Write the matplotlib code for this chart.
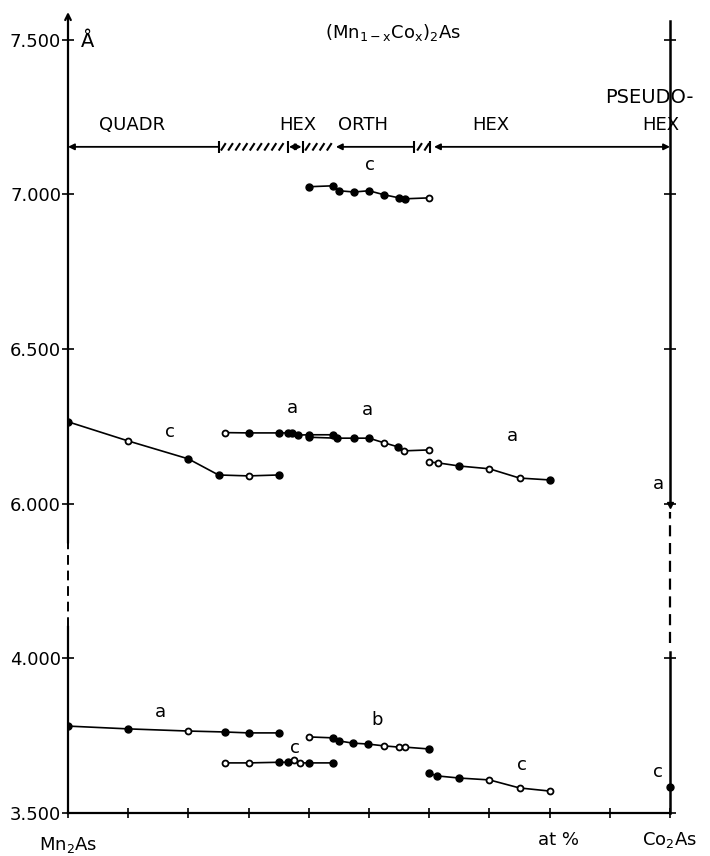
import numpy as np
import matplotlib.pyplot as plt

plt.rcParams['font.family'] = 'DejaVu Sans'

# composition x (fraction Co) and lattice parameters in Angstrom
top_c_x = [0.40, 0.44, 0.45, 0.475, 0.50, 0.525, 0.55, 0.56, 0.60]
top_c_y = [7.025, 7.028, 7.012, 7.008, 7.012, 6.999, 6.989, 6.986, 6.989]
top_c_open = [0, 0, 0, 0, 0, 0, 0, 0, 1]

quadr_c_x = [0.0, 0.10, 0.20, 0.25, 0.30, 0.35]
quadr_c_y = [6.265, 6.203, 6.145, 6.093, 6.090, 6.093]
quadr_c_open = [0, 1, 0, 0, 1, 0]

hex_a_x = [0.26, 0.30, 0.35, 0.365, 0.372, 0.382, 0.40, 0.44]
hex_a_y = [6.230, 6.229, 6.229, 6.229, 6.228, 6.222, 6.223, 6.223]
hex_a_open = [1, 0, 0, 0, 0, 0, 0, 0]

orth_a_x = [0.40, 0.447, 0.475, 0.50, 0.525, 0.548, 0.558, 0.60]
orth_a_y = [6.215, 6.212, 6.212, 6.212, 6.197, 6.184, 6.171, 6.174]
orth_a_open = [0, 0, 0, 0, 1, 0, 1, 1]

hex2_a_x = [0.60, 0.615, 0.65, 0.70, 0.75, 0.80]
hex2_a_y = [6.135, 6.132, 6.122, 6.113, 6.083, 6.077]
hex2_a_open = [1, 1, 0, 1, 1, 0]

quadr_a_x = [0.0, 0.10, 0.20, 0.26, 0.30, 0.35]
quadr_a_y = [3.781, 3.772, 3.765, 3.762, 3.759, 3.759]
quadr_a_open = [0, 0, 1, 0, 0, 0]

hex_c_x = [0.26, 0.30, 0.35, 0.365, 0.375, 0.385, 0.40, 0.44]
hex_c_y = [3.662, 3.662, 3.664, 3.664, 3.671, 3.662, 3.662, 3.662]
hex_c_open = [1, 1, 0, 0, 1, 1, 0, 0]

orth_b_x = [0.40, 0.44, 0.45, 0.473, 0.498, 0.525, 0.55, 0.56, 0.60]
orth_b_y = [3.746, 3.743, 3.733, 3.726, 3.723, 3.717, 3.713, 3.713, 3.707]
orth_b_open = [1, 0, 0, 0, 0, 1, 1, 1, 0]

hex2_c_x = [0.60, 0.613, 0.65, 0.70, 0.75, 0.80]
hex2_c_y = [3.629, 3.620, 3.613, 3.607, 3.581, 3.571]
hex2_c_open = [0, 0, 0, 1, 1, 1]

co2as_a = 5.99
co2as_c = 3.584

ytick_vals = [3.5, 4.0, 6.0, 6.5, 7.0, 7.5]
ytick_labels = ['3.500', '4.000', '6.000', '6.500', '7.000', '7.500']

# phase regions along the top bar
phase_y = 7.154
two_phase = [(0.252, 0.362), (0.392, 0.44), (0.578, 0.60)]


# broken axis: 4.0..6.0 squeezed into a quarter of the normal height
def fwd(y):
    y = np.asarray(y, dtype=float)
    return np.where(y <= 4.0, y + 1.5, np.where(y >= 6.0, y, 5.5 + (y - 4.0) * 0.25))


def inv(d):
    d = np.asarray(d, dtype=float)
    return np.where(d <= 5.5, d - 1.5, np.where(d >= 6.0, d, 4.0 + (d - 5.5) * 4.0))


fig = plt.figure(figsize=(7.1, 8.56), dpi=100)
ax = fig.add_axes([68 / 710, 1 - 813 / 856, 602 / 710, 801 / 856])
ax.set_yscale('function', functions=(fwd, inv))
ax.set_xlim(0, 1)
ax.set_ylim(3.5, 7.59)

for s in ['top', 'right', 'left']:
    ax.spines[s].set_visible(False)
ax.spines['bottom'].set_linewidth(1.6)

ax.set_xticks(np.arange(0, 1.01, 0.1))
ax.set_xticklabels([])
ax.set_yticks(ytick_vals)
ax.set_yticklabels(ytick_labels, fontsize=13)
ax.tick_params(axis='x', direction='inout', length=7, width=1.2)
ax.tick_params(axis='y', direction='inout', length=8, width=1.2, pad=1, right=True)
ax.yaxis.set_minor_locator(plt.NullLocator())
ax.xaxis.set_minor_locator(plt.NullLocator())

# left axis: solid, dashed break, solid with arrow on top
ax.plot([0, 0], [3.5, 4.41], color='black', lw=1.6, clip_on=False)
ax.plot([0, 0], [4.41, 5.49], color='black', lw=1.4, ls=(0, (5, 3)), clip_on=False)
ax.annotate('', xy=(0, 7.59), xytext=(0, 5.49),
            arrowprops=dict(arrowstyle='->', lw=1.6, color='black', shrinkA=0, shrinkB=0),
            annotation_clip=False)

# right axis (Co2As)
ax.plot([1, 1], [3.5, 4.08], color='black', lw=1.8, clip_on=False)
ax.plot([1, 1], [4.2, 5.89], color='black', lw=1.6, ls=(0, (5, 3)), clip_on=False)
ax.plot([1, 1], [co2as_a, 7.56], color='black', lw=1.8, clip_on=False)
ax.plot([1], [co2as_a], marker='v', color='black', ms=5, clip_on=False)
ax.plot([1], [co2as_c], marker='o', color='black', ms=5, clip_on=False)


def series(xs, ys, opens):
    ax.plot(xs, ys, color='black', lw=1.2)
    xs = np.array(xs)
    ys = np.array(ys)
    o = np.array(opens, dtype=bool)
    ax.plot(xs[~o], ys[~o], 'o', color='black', ms=5)
    ax.plot(xs[o], ys[o], 'o', mfc='white', mec='black', mew=1.3, ms=4.3)


series(top_c_x, top_c_y, top_c_open)
series(quadr_c_x, quadr_c_y, quadr_c_open)
series(hex_a_x, hex_a_y, hex_a_open)
series(orth_a_x, orth_a_y, orth_a_open)
series(hex2_a_x, hex2_a_y, hex2_a_open)
series(quadr_a_x, quadr_a_y, quadr_a_open)
series(hex_c_x, hex_c_y, hex_c_open)
series(orth_b_x, orth_b_y, orth_b_open)
series(hex2_c_x, hex2_c_y, hex2_c_open)


# phase bar
def arrow(x0, x1, style):
    ax.annotate('', xy=(x1, phase_y), xytext=(x0, phase_y),
                arrowprops=dict(arrowstyle=style, lw=1.3, color='black',
                                shrinkA=0, shrinkB=0, mutation_scale=9),
                annotation_clip=False)


arrow(0.25, 0.0, '-|>')
for xb in [0.25, 0.365, 0.39, 0.575, 0.602]:
    ax.plot([xb], [phase_y], marker='|', color='black', ms=9, mew=1.5)
# two-phase regions drawn as short slashes
for x0, x1 in two_phase:
    for xs in np.arange(x0 + 0.006, x1, 0.012):
        ax.plot([xs - 0.004, xs + 0.004], [phase_y - 0.012, phase_y + 0.012],
                color='black', lw=1.5, solid_capstyle='butt')
arrow(0.367, 0.388, '<|-|>')
arrow(0.445, 0.575, '<|-')
arrow(0.608, 1.0, '<|-|>')

lab = dict(fontsize=13, ha='center', va='center')
ax.text(0.106, 7.225, 'QUADR', **lab)
ax.text(0.382, 7.225, 'HEX', **lab)
ax.text(0.49, 7.225, 'ORTH', **lab)
ax.text(0.703, 7.225, 'HEX', **lab)
ax.text(0.965, 7.312, 'PSEUDO-', fontsize=14, ha='center', va='center')
ax.text(0.985, 7.225, 'HEX', **lab)

ax.text(0.54, 7.523, r'(Mn$_{\mathrm{1-x}}$Co$_{\mathrm{x}}$)$_{\mathrm{2}}$As', **lab)
ax.text(0.022, 7.494, 'Å', fontsize=14, ha='left', va='center')

# curve labels
for tx, ty, t in [(0.502, 7.096, 'c'), (0.169, 6.232, 'c'), (0.372, 6.31, 'a'),
                  (0.498, 6.303, 'a'), (0.738, 6.219, 'a'), (0.98, 6.064, 'a'),
                  (0.153, 3.827, 'a'), (0.377, 3.71, 'c'), (0.513, 3.801, 'b'),
                  (0.754, 3.655, 'c'), (0.98, 3.633, 'c')]:
    ax.text(tx, ty, t, **lab)

tr = ax.get_xaxis_transform()
ax.text(0.0, -0.04, r'Mn$_{\mathrm{2}}$As', transform=tr, **lab)
ax.text(0.814, -0.034, 'at %', transform=tr, **lab)
ax.text(1.0, -0.034, r'Co$_{\mathrm{2}}$As', transform=tr, **lab)

fig.savefig('out.png', dpi=100)
